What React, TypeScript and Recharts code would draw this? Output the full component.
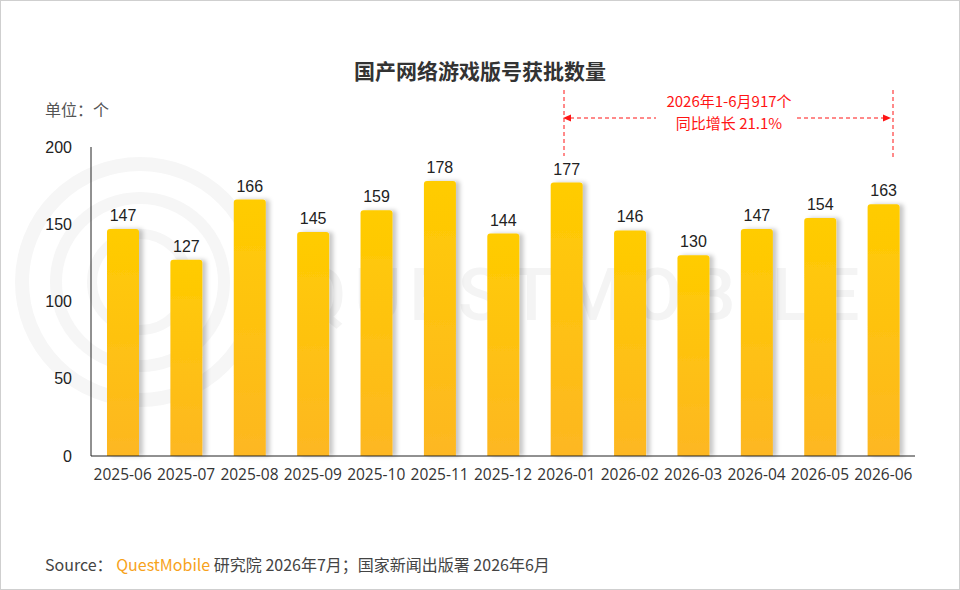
import React from 'react';
import { BarChart, Bar, XAxis, YAxis, LabelList } from 'recharts';

const months = [
  '2025-06', '2025-07', '2025-08', '2025-09', '2025-10', '2025-11', '2025-12',
  '2026-01', '2026-02', '2026-03', '2026-04', '2026-05', '2026-06',
];
const approvals = [147, 127, 166, 145, 159, 178, 144, 177, 146, 130, 147, 154, 163];
const yTicks = [0, 50, 100, 150, 200];

const data = months.map((month, i) => ({ month, value: approvals[i] }));

const cjk = '"Noto Sans CJK SC", "Open Sans", sans-serif';
const red = '#FF1414';

const App: React.FC = () => {
  return (
    <div style={{ position: 'relative', width: 960, height: 590, background: '#fff', fontFamily: cjk }}>
      <style>{'body{margin:0}'}</style>

      {/* watermark */}
      <svg width={960} height={590} style={{ position: 'absolute', left: 0, top: 0 }}>
        <circle cx={140} cy={282} r={118} fill="none" stroke="#f6f6f6" strokeWidth={14} />
        <circle cx={140} cy={282} r={84} fill="none" stroke="#f6f6f6" strokeWidth={12} />
        <circle cx={140} cy={282} r={48} fill="none" stroke="#f6f6f6" strokeWidth={10} />
        <text x={582} y={320} textAnchor="middle" fontSize={72} fontWeight={500}
          fontFamily="Roboto, sans-serif" fill="#f4f4f4" letterSpacing={8}>QUESTMOBILE</text>
      </svg>

      <div style={{ position: 'absolute', left: 0, top: 0 }}>
        <BarChart width={960} height={590} data={data}
          margin={{ top: 147, right: 45, left: 0, bottom: 104 }}>
          <defs>
            <linearGradient id="barFill" x1="0" y1="0" x2="0" y2="1">
              <stop offset="0%" stopColor="#FFCC00" />
              <stop offset="100%" stopColor="#FDB722" />
            </linearGradient>
            <filter id="barShadow" x="-20%" y="-10%" width="160%" height="120%">
              <feDropShadow dx={4} dy={0} stdDeviation={2} floodColor="#000" floodOpacity={0.22} />
            </filter>
          </defs>
          <XAxis dataKey="month" axisLine={{ stroke: '#222' }} tickLine={false} tickMargin={7}
            height={30} interval={0}
            tick={{ fill: '#333', fontSize: 15.5, fontFamily: '"Open Sans", sans-serif' }} />
          <YAxis domain={[0, 200]} ticks={yTicks} axisLine={{ stroke: '#222' }} tickLine={false}
            width={91} tickMargin={13}
            tick={{ fill: '#222', fontSize: 16, fontFamily: '"Liberation Sans", Arial, sans-serif' }} />
          <Bar dataKey="value" barSize={32} radius={[3, 3, 0, 0]} fill="url(#barFill)"
            filter="url(#barShadow)" isAnimationActive={false}>
            <LabelList dataKey="value" position="top" offset={8} fill="#222" fontSize={16}
              fontFamily='"Liberation Sans", Arial, sans-serif' />
          </Bar>
        </BarChart>
      </div>

      {/* annotation & texts */}
      <svg width={960} height={590} style={{ position: 'absolute', left: 0, top: 0, pointerEvents: 'none' }}>
        <rect x={0.5} y={0.5} width={959} height={589} fill="none" stroke="#cfcfcf" />
        <text x={480} y={79} textAnchor="middle" fontSize={21} fontWeight="bold" fill="#333"
          fontFamily={cjk}>国产网络游戏版号获批数量</text>
        <text x={45} y={116} fontSize={16} fill="#555" fontFamily={cjk}>单位：个</text>

        <line x1={564} y1={90} x2={564} y2={156} stroke={red} strokeDasharray="4 3" />
        <line x1={893} y1={90} x2={893} y2={158} stroke={red} strokeDasharray="4 3" />
        <line x1={570} y1={118} x2={656} y2={118} stroke={red} strokeDasharray="4 3" />
        <line x1={797} y1={118} x2={887} y2={118} stroke={red} strokeDasharray="4 3" />
        <polygon points="563,118 571,114.5 571,121.5" fill={red} />
        <polygon points="891,118 883,114.5 883,121.5" fill={red} />

        <text x={45} y={571} fontSize={16} fill="#444" fontFamily={cjk}>
          Source：
          <tspan fill="#F7A21B"> QuestMobile</tspan>
          <tspan> 研究院 2026年7月；国家新闻出版署 2026年6月</tspan>
        </text>
      </svg>

      <div style={{
        position: 'absolute', left: 649, top: 90, width: 160, textAlign: 'center',
        color: red, fontSize: 15, lineHeight: '22px', fontFamily: cjk,
      }}>
        <div>2026年1-6月917个</div>
        <div>同比增长 21.1%</div>
      </div>
    </div>
  );
};

export default App;
